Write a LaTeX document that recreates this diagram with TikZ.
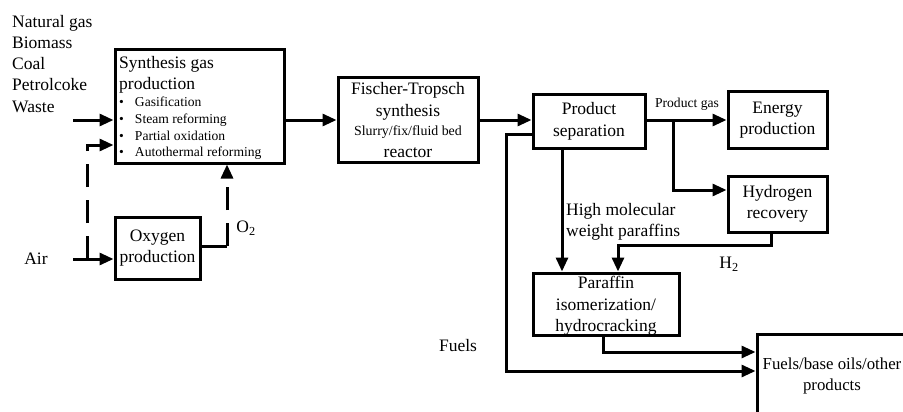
\documentclass[tikz,border=0pt]{standalone}
\usepackage{fontspec}
\setmainfont{Liberation Serif}
\usetikzlibrary{arrows.meta}
\begin{document}
\begin{tikzpicture}[x=1pt,y=-1pt,
  box/.style={draw,line width=3pt,inner sep=0pt,align=center},
  pipe/.style={line width=3pt},
  flow/.style={pipe,-{Triangle[length=14pt,width=12pt]}},
  dashflow/.style={flow,dash pattern=on 23pt off 13pt},
  big/.style={font=\fontsize{17.5}{21.5}\selectfont},
  small/.style={font=\fontsize{13.6}{16.7}\selectfont},
  lbl/.style={inner sep=0pt}
]
\useasboundingbox (0,0) rectangle (903,412);

% process boxes
\node[box,minimum width=169pt,minimum height=113pt] (syn) at (199.5,106.5) {};
\node[box,big,minimum width=85pt,minimum height=62pt] (oxy) at (157.5,248) {Oxygen\\production};
\node[box,big,minimum width=140pt,minimum height=84pt] (ft) at (408,120)
  {Fischer-Tropsch\\synthesis\\[-2pt]
   \fontsize{13.9}{17}\selectfont Slurry/fix/fluid bed\\reactor};
\node[box,big,minimum width=112pt,minimum height=53pt] (sep) at (589,121.5) {Product\\separation};
\node[box,big,minimum width=99pt,minimum height=56pt] (energy) at (777.5,120) {Energy\\production};
\node[box,big,minimum width=99pt,minimum height=56pt] (hyd) at (777.5,204) {Hydrogen\\recovery};
\node[box,big,minimum width=146pt,minimum height=62pt,text depth=0pt] (par) at (606,304) {Paraffin\\isomerization/\\hydrocracking};
\node[box,minimum width=156pt,minimum height=96pt] (prod) at (835,382) {};
\node[lbl,align=center,font=\fontsize{16.8}{21.5}\selectfont] (prodtext) at (832,376) {Fuels/base oils/other\\products};

% text inside the synthesis gas box
\node[lbl,big,align=left,anchor=north west] (syntitle) at (119,56) {Synthesis gas\\production};
\node[lbl,small,align=left,anchor=north west] (synlist) at (119,97)
  {\textbullet\hspace{11pt}Gasification\\
   \textbullet\hspace{11pt}Steam reforming\\
   \textbullet\hspace{11pt}Partial oxidation\\
   \textbullet\hspace{11pt}Autothermal reforming};

% feedstocks and free labels
\node[lbl,align=left,anchor=north west,font=\fontsize{17.5}{21.2}\selectfont] (feeds) at (12,15)
  {Natural gas\\Biomass\\Coal\\Petrolcoke\\Waste};
\node[lbl,big] (air) at (36,259) {Air};
\node[lbl,big] (o2) at (246,228) {O\textsubscript{2}};
\node[lbl,small] (pgas) at (687,104) {Product gas};
\node[lbl,big,align=left,anchor=west] (hmw) at (566,222) {High molecular\\weight paraffins};
\node[lbl,big] (h2) at (729,264) {H\textsubscript{2}};
\node[lbl,big] (fuels) at (458,346) {Fuels};

% free ends and bends
\coordinate (feedin) at (73,120);
\coordinate (airin) at (73,259);
\coordinate (airsplit) at (87,259);
\coordinate (airturn) at (87,145);
\coordinate (o2turn) at (227,246);
\coordinate (gassplit) at (673,120);
\coordinate (gasturn) at (673,190);
\coordinate (h2turn) at (618,245);
\coordinate (bypass) at (506,134);
\coordinate (bypassdown) at (506,371);
\coordinate (lvlone) at (0,352);

% connectors
\draw[flow] (feedin) -- (feedin -| syn.west);
\draw[flow] (airin) -- (airin -| oxy.west);
\draw[dashflow] (airsplit) -- (airturn) -- (airturn -| syn.west);
\draw[pipe] (o2turn -| oxy.east) -- (o2turn);
\draw[dashflow] (o2turn) -- (o2turn |- syn.south);
\draw[flow] (syn.east |- ft.west) -- (ft.west);
\draw[flow] (ft.east) -- (ft.east -| sep.west);
\draw[flow] (sep.east |- energy.west) -- (energy.west);
\draw[flow] (gassplit) -- (gasturn) -- (gasturn -| hyd.west);
\draw[flow] ([xshift=-27pt]sep.south) -- ([xshift=-27pt]sep.south |- par.north);
\draw[flow] ([xshift=-6.5pt]hyd.south) |- (h2turn) -- (h2turn |- par.north);
\draw[flow] ([xshift=-3pt]par.south) |- (lvlone -| prod.west);
\draw[flow] (bypass -| sep.west) -- (bypass) -- (bypassdown) -- (bypassdown -| prod.west);
\end{tikzpicture}
\end{document}
